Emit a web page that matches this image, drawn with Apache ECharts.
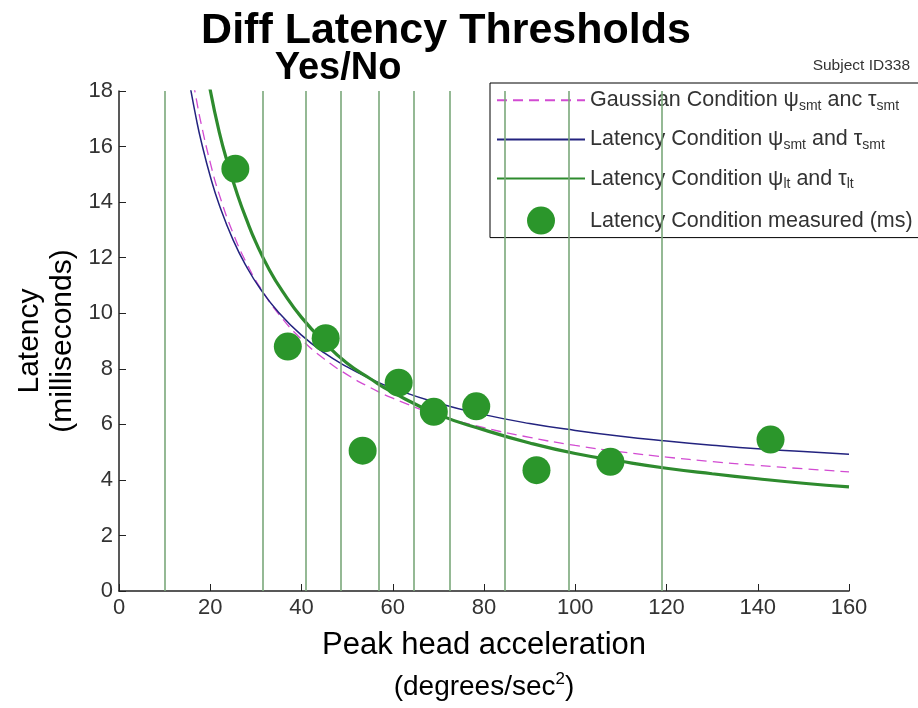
<!DOCTYPE html>
<html>
<head>
<meta charset="utf-8">
<script src="https://cdn.jsdelivr.net/npm/echarts@6/dist/echarts.min.js"></script>
<style>html,body{margin:0;padding:0;background:#fff}#c{width:918px;height:708px}</style>
</head>
<body>
<div id="c"></div>
<script>
// Measured points (Latency Condition measured, ms)
const measuredX = [25.5, 37, 45.3, 53.4, 61.3, 69, 78.3, 91.5, 107.7, 142.8];
const measuredY = [15.2, 8.8, 9.1, 5.05, 7.5, 6.45, 6.65, 4.35, 4.65, 5.45];

// Fitted curve: Latency Condition psi_lt and tau_lt (green, thick)
const ltX = [19.8, 22, 24, 26, 28, 30, 33, 36, 40, 45, 50, 55, 60, 70, 80, 90, 100, 110, 120, 130, 140, 150, 160];
const ltY = [18.2, 16.5, 15.3, 14.25, 13.35, 12.55, 11.55, 10.75, 9.85, 8.95, 8.2, 7.65, 7.15, 6.35, 5.8, 5.33, 4.95, 4.67, 4.42, 4.22, 4.04, 3.88, 3.75];

// Fitted curve: Latency Condition psi_smt and tau_smt (navy)
const smtX = [15.5, 17, 18, 20, 22, 25, 28, 31, 35, 40, 45, 50, 55, 60, 70, 80, 90, 100, 110, 120, 130, 140, 150, 160];
const smtY = [18.25, 16.95, 16.2, 14.93, 13.89, 12.64, 11.66, 10.87, 10.03, 9.21, 8.57, 8.07, 7.65, 7.3, 6.76, 6.35, 6.03, 5.78, 5.57, 5.4, 5.25, 5.12, 5.02, 4.92];

// Fitted curve: Gaussian Condition psi_smt and tau_smt (magenta dashed)
const gaussX = [16.3, 17, 18, 20, 22, 25, 28, 31, 35, 40, 45, 50, 55, 60, 70, 80, 90, 100, 110, 120, 130, 140, 150, 160];
const gaussY = [18.3, 17.66, 16.83, 15.42, 14.26, 12.88, 11.79, 10.91, 9.97, 9.06, 8.35, 7.79, 7.33, 6.94, 6.33, 5.88, 5.53, 5.24, 5.01, 4.82, 4.66, 4.52, 4.4, 4.29];

// Vertical bin lines (x positions)
const binLines = [10, 31.5, 41, 48.5, 57, 64.5, 72.5, 84.5, 98.5, 119];

// Axis ticks
const xTicks = [0, 20, 40, 60, 80, 100, 120, 140, 160];
const yTicks = [0, 2, 4, 6, 8, 10, 12, 14, 16, 18];

const zip = (xs, ys) => xs.map((x, i) => [x, ys[i]]);

const FONT = 'Liberation Sans, Arial, sans-serif';
const NARROW = 'Liberation Sans Narrow, Liberation Sans, Arial, sans-serif';

const legendLabels = {
  gauss: '{t|Gaussian Condition ψ}{s|smt}{t| anc τ}{s|smt}',
  smt: '{t|Latency Condition ψ}{s|smt}{t| and τ}{s|smt}',
  lt: '{t|Latency Condition ψ}{s|lt}{t| and τ}{s|lt}',
  meas: '{t|Latency Condition measured (ms)}'
};
const hiddenSym = {opacity: 0, color: 'rgba(0,0,0,0)', borderWidth: 0};

const chart = echarts.init(document.getElementById('c'), null, {renderer: 'canvas'});
chart.setOption({
  animation: false,
  backgroundColor: '#fff',
  title: [
    {text: 'Diff Latency Thresholds', left: 441, top: 5, textAlign: 'center',
     textStyle: {fontFamily: FONT, fontWeight: 'bold', fontSize: 43, color: '#000'}},
    {text: 'Yes/No', left: 333, top: 45, textAlign: 'center',
     textStyle: {fontFamily: FONT, fontWeight: 'bold', fontSize: 38, color: '#000'}},
    {text: 'Subject ID338', right: 3, top: 53,
     textStyle: {fontFamily: FONT, fontWeight: 'normal', fontSize: 15.5, color: '#333'}}
  ],
  grid: {left: 119, right: 69, top: 91, bottom: 117, containLabel: false, outerBoundsMode: 'none'},
  legend: {
    orient: 'vertical', left: 490, top: 83,
    data: [
      {name: 'gauss', itemStyle: hiddenSym},
      {name: 'smt', itemStyle: hiddenSym},
      {name: 'lt', itemStyle: hiddenSym},
      {name: 'meas'}
    ],
    itemWidth: 88, itemHeight: 28, itemGap: 15,
    padding: [6, 14, 3, 6],
    borderColor: '#000', borderWidth: 1, backgroundColor: '#fff',
    formatter: n => legendLabels[n],
    textStyle: {
      fontFamily: FONT, color: '#333',
      rich: {
        t: {fontFamily: FONT, fontSize: 21.5, color: '#333'},
        s: {fontFamily: FONT, fontSize: 14, color: '#333', padding: [12, 0, 0, 0]}
      }
    }
  },
  xAxis: {
    type: 'value', min: 0, max: 160, interval: 20,
    name: '{a|Peak head acceleration}\n{b|(degrees/sec}{p|2}{b|)}',
    nameLocation: 'middle', nameGap: 33, nameMoveOverlap: false,
    nameTextStyle: {
      fontFamily: FONT, color: '#000', lineHeight: 42,
      rich: {
        a: {fontFamily: FONT, fontSize: 31, color: '#000', lineHeight: 42},
        b: {fontFamily: FONT, fontSize: 28, color: '#000', lineHeight: 42},
        p: {fontFamily: FONT, fontSize: 17, color: '#000', padding: [0, 0, 16, 0]}
      }
    },
    axisLine: {show: true, lineStyle: {color: '#222', width: 1.5}},
    axisTick: {show: true, inside: true, length: 7, lineStyle: {color: '#222'}},
    axisLabel: {fontFamily: NARROW, fontSize: 22, color: '#333', margin: 6,
                formatter: v => xTicks.includes(v) ? String(v) : ''},
    splitLine: {show: false}
  },
  yAxis: {
    type: 'value', min: 0, max: 18, interval: 2,
    name: 'Latency\n(milliseconds)',
    nameLocation: 'middle', nameGap: 40, nameRotate: 90, nameMoveOverlap: false,
    nameTextStyle: {fontFamily: FONT, fontSize: 30, color: '#000', lineHeight: 33},
    axisLine: {show: true, lineStyle: {color: '#222', width: 1.5}},
    axisTick: {show: true, inside: true, length: 7, lineStyle: {color: '#222'}},
    axisLabel: {fontFamily: NARROW, fontSize: 22, color: '#333', margin: 6,
                formatter: v => yTicks.includes(v) ? String(v) : ''},
    splitLine: {show: false}
  },
  series: [
    {
      name: 'bins', type: 'line', data: [], z: 1, silent: true,
      markLine: {
        silent: true, symbol: ['none', 'none'], label: {show: false},
        lineStyle: {color: '#7aa87a', width: 1.6, type: 'solid'},
        data: binLines.map(v => ({xAxis: v}))
      }
    },
    {
      name: 'gauss', type: 'line', data: zip(gaussX, gaussY), smooth: true,
      symbol: 'none', z: 3,
      lineStyle: {color: '#d24bd2', width: 1.3, type: [10, 6]},
      itemStyle: {color: '#d24bd2'}
    },
    {
      name: 'smt', type: 'line', data: zip(smtX, smtY), smooth: true,
      symbol: 'none', z: 3,
      lineStyle: {color: '#23237f', width: 1.5},
      itemStyle: {color: '#23237f'}
    },
    {
      name: 'lt', type: 'line', data: zip(ltX, ltY), smooth: true,
      symbol: 'none', z: 4,
      lineStyle: {color: '#2e8b2e', width: 3.2},
      itemStyle: {color: '#2e8b2e'}
    },
    {
      name: 'meas', type: 'scatter', data: zip(measuredX, measuredY),
      symbol: 'circle', symbolSize: 28, z: 5,
      itemStyle: {color: '#2b962b', opacity: 1}
    }
  ]
});
</script>
</body>
</html>
